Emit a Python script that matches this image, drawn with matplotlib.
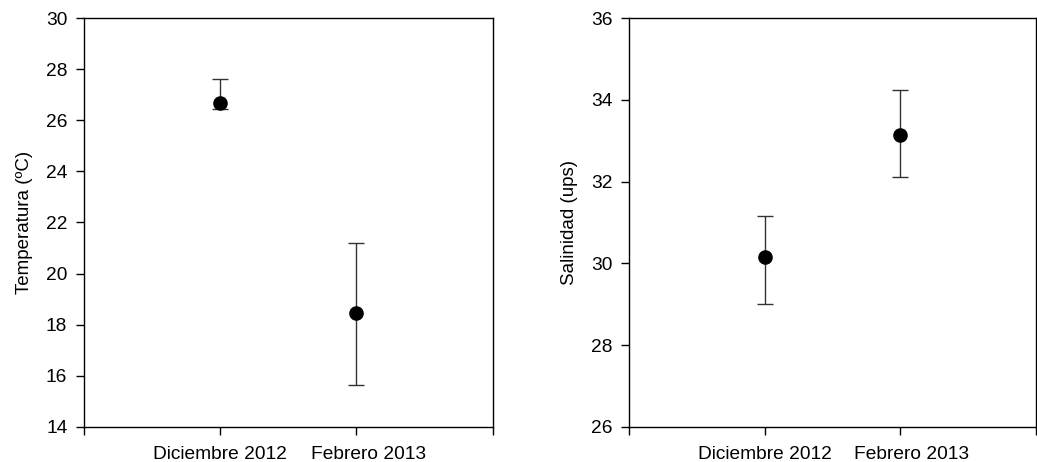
import matplotlib
matplotlib.use('Agg')
import matplotlib.pyplot as plt
from matplotlib.transforms import ScaledTranslation

plt.rcParams['font.family'] = ['Liberation Sans', 'DejaVu Sans']

# campaigns
months = ['Diciembre 2012', 'Febrero 2013']

# temperature (ºC): mean, upper and lower bounds of the bar
temp_mean = [26.67, 18.47]
temp_upper = [27.62, 21.21]
temp_lower = [26.43, 15.65]

# salinity (ups)
sal_mean = [30.15, 33.13]
sal_upper = [31.17, 34.23]
sal_lower = [29.00, 32.11]


def draw_panel(fig, ax, mean, upper, lower, ylim, yticks, ylabel):
    xpos = [1, 2]
    err = [[m - lo for m, lo in zip(mean, lower)],
           [up - m for m, up in zip(mean, upper)]]
    ax.errorbar(xpos, mean, yerr=err, fmt='o', color='black', markersize=9.5,
                ecolor='#333333', elinewidth=1.0, capsize=5.5, capthick=1.0)
    ax.set_xlim(0, 3)
    ax.set_ylim(*ylim)
    ax.set_xticks([0, 1, 2, 3])
    ax.set_xticklabels(['', months[0], months[1], ''])
    ax.set_yticks(yticks)
    ax.set_ylabel(ylabel, fontsize=13.5, labelpad=9)
    ax.tick_params(direction='out', length=6, width=1, labelsize=13.8, pad=6)
    ax.tick_params(axis='x', pad=8)
    for sp in ax.spines.values():
        sp.set_linewidth(1.0)
    # second label sits a little right of its tick in the original
    lab = ax.get_xticklabels()[2]
    lab.set_transform(lab.get_transform() +
                      ScaledTranslation(0.12, 0, fig.dpi_scale_trans))


fig = plt.figure(figsize=(10.37, 4.62), dpi=100)
ax1 = fig.add_axes([0.081, 0.076, 0.394, 0.885])
ax2 = fig.add_axes([0.6066, 0.076, 0.392, 0.885])

draw_panel(fig, ax1, temp_mean, temp_upper, temp_lower, (14, 30),
           range(14, 31, 2), 'Temperatura (ºC)')
draw_panel(fig, ax2, sal_mean, sal_upper, sal_lower, (26, 36),
           range(26, 37, 2), 'Salinidad (ups)')

fig.savefig('out.png', dpi=100)
